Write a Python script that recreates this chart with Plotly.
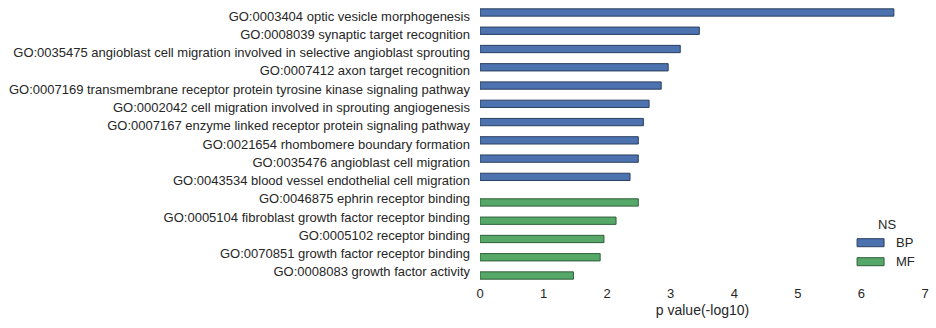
import plotly.graph_objects as go

terms = [
    "GO:0003404 optic vesicle morphogenesis",
    "GO:0008039 synaptic target recognition",
    "GO:0035475 angioblast cell migration involved in selective angioblast sprouting",
    "GO:0007412 axon target recognition",
    "GO:0007169 transmembrane receptor protein tyrosine kinase signaling pathway",
    "GO:0002042 cell migration involved in sprouting angiogenesis",
    "GO:0007167 enzyme linked receptor protein signaling pathway",
    "GO:0021654 rhombomere boundary formation",
    "GO:0035476 angioblast cell migration",
    "GO:0043534 blood vessel endothelial cell migration",
    "GO:0046875 ephrin receptor binding",
    "GO:0005104 fibroblast growth factor receptor binding",
    "GO:0005102 receptor binding",
    "GO:0070851 growth factor receptor binding",
    "GO:0008083 growth factor activity",
]
ns = ["BP"] * 10 + ["MF"] * 5
pvals = [6.51, 3.45, 3.15, 2.96, 2.85, 2.66, 2.57, 2.49, 2.49, 2.36,
         2.49, 2.14, 1.95, 1.89, 1.47]
groups = ["BP", "MF"]
legend_title = "NS"

colors = {"BP": "#4C72B0", "MF": "#55A868"}
edges = {"BP": "#2b3f5f", "MF": "#2f5e3a"}

fig = go.Figure()
for g in groups:
    xs = [v if n == g else None for v, n in zip(pvals, ns)]
    fig.add_trace(go.Bar(
        y=terms, x=xs, orientation="h", name=g, showlegend=False,
        marker=dict(color=colors[g], line=dict(color=edges[g], width=1)),
    ))

txt = "#262626"

# custom legend (matplotlib-style wide patches), in paper coordinates
fig.add_annotation(text=legend_title, xref="paper", yref="paper", x=0.9147, y=0.2044,
                   showarrow=False, xanchor="center", yanchor="middle",
                   font=dict(size=13, color=txt))
leg_rows = [(0.1544, 0.1252), (0.0850, 0.0558)]
for g, (ytop, ybot) in zip(groups, leg_rows):
    fig.add_shape(type="rect", xref="paper", yref="paper", x0=0.8474, x1=0.9080,
                  y0=ybot, y1=ytop, fillcolor=colors[g],
                  line=dict(color=edges[g], width=1))
    fig.add_annotation(text=g, xref="paper", yref="paper", x=0.9308, y=(ytop + ybot) / 2,
                       showarrow=False, xanchor="left", yanchor="middle",
                       font=dict(size=13, color=txt))

fig.update_layout(
    width=936, height=328,
    margin=dict(l=479.5, r=11, t=7, b=47, pad=0),
    paper_bgcolor="white", plot_bgcolor="white",
    barmode="group", bargap=0.2, bargroupgap=0,
    showlegend=False,
    font=dict(family="Liberation Sans, Arial, sans-serif", size=13, color=txt),
    xaxis=dict(range=[0, 7], dtick=1, showgrid=False, zeroline=False,
               showline=False, ticks="", ticklabelstandoff=3,
               tickfont=dict(size=13, color=txt),
               title=dict(text="p value(-log10)", font=dict(size=14, color=txt), standoff=5)),
    yaxis=dict(autorange="reversed", showgrid=False, zeroline=False,
               showline=False, ticks="", ticklabelstandoff=9,
               tickfont=dict(size=13, color=txt)),
)
fig.write_html("out.html")
